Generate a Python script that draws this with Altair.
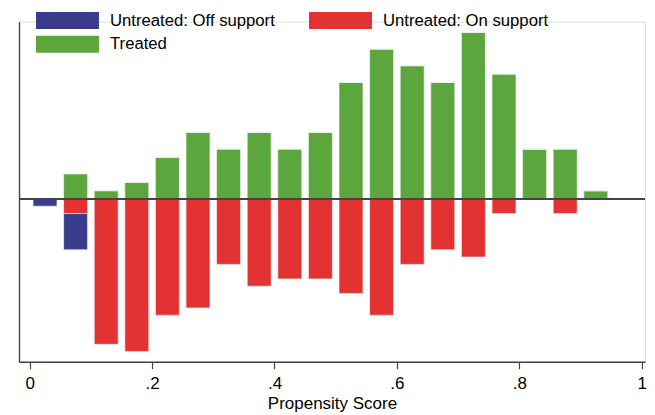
import altair as alt
import pandas as pd

# bin centres of the propensity-score histogram (bin width .05)
centers = [0.025, 0.075, 0.125, 0.175, 0.225, 0.275, 0.325, 0.375, 0.425, 0.475,
           0.525, 0.575, 0.625, 0.675, 0.725, 0.775, 0.825, 0.875, 0.925]
# counts per bin
treated = [0, 3, 1, 2, 5, 8, 6, 8, 6, 8, 14, 18, 16, 14, 20, 15, 6, 6, 1]
untreated_on = [0, 2, 20, 21, 16, 15, 9, 12, 11, 11, 13, 16, 9, 7, 8, 2, 0, 2, 0]
untreated_off = [1, 5, 0, 0, 0, 0, 0, 0, 0, 0, 0, 0, 0, 0, 0, 0, 0, 0, 0]

bin_width = 0.05
groups = ["Untreated: Off support", "Untreated: On support", "Treated"]
colors = ["#3a3d8b", "#e23232", "#5ca63e"]

n_t = sum(treated)
n_u = sum(untreated_on) + sum(untreated_off)

rows = []
for i, c in enumerate(centers):
    rows.append({"x": c, "group": "Treated", "ord": 0,
                 "dens": treated[i] / n_t / bin_width})
    rows.append({"x": c, "group": "Untreated: On support", "ord": 1,
                 "dens": -untreated_on[i] / n_u / bin_width})
    rows.append({"x": c, "group": "Untreated: Off support", "ord": 2,
                 "dens": -untreated_off[i] / n_u / bin_width})
df = pd.DataFrame(rows)

FONT = "Liberation Sans"

bars = alt.Chart(df).mark_bar(size=24, stroke="#f2f2f2", strokeWidth=0.7).encode(
    x=alt.X("x:Q",
            scale=alt.Scale(domain=[-0.01748, 1.00539], nice=False, zero=False, padding=0),
            axis=alt.Axis(values=[0, 0.2, 0.4, 0.6, 0.8, 1],
                          labelExpr="datum.value == 0 ? '0' : datum.value == 1 ? '1' : replace(format(datum.value, '.1f'), '0.', '.')",
                          title="Propensity Score", grid=False,
                          tickSize=7, tickColor="#444", tickWidth=1.2,
                          domainColor="#444", domainWidth=1.4,
                          labelFont=FONT, labelFontSize=17, labelColor="#000",
                          labelBaseline="alphabetic", labelPadding=20, labelFlush=False,
                          titleFont=FONT, titleFontSize=17, titleFontWeight="normal",
                          titleColor="#000", titleBaseline="alphabetic", titleY=47)),
    y=alt.Y("dens:Q", stack="zero",
            scale=alt.Scale(domain=[-2.488, 2.711], nice=False, zero=False, padding=0),
            axis=alt.Axis(labels=False, ticks=False, title=None, grid=False,
                          domainColor="#444", domainWidth=1.4)),
    color=alt.Color("group:N",
                    scale=alt.Scale(domain=groups, range=colors),
                    legend=alt.Legend(title=None, orient="none", legendX=17, legendY=-10,
                                      direction="horizontal",
                                      columns=2, columnPadding=34, rowPadding=6,
                                      symbolType="M-1,-1H6.41V1H-1Z", symbolSize=289,
                                      symbolStrokeWidth=0, symbolOpacity=1,
                                      labelFont=FONT, labelFontSize=16.7, labelColor="#000",
                                      labelOffset=57, padding=0, labelLimit=400)),
    order=alt.Order("ord:Q"),
)

zero = alt.Chart(df).mark_rule(color="#444", strokeWidth=1.1).encode(y=alt.datum(0))

chart = alt.layer(bars, zero).properties(
    width=626, height=340,
    autosize=alt.AutoSizeParams(type="none"),
    padding={"left": 11, "top": 13.7, "right": 2, "bottom": 53},
).configure_view(stroke=None).configure(background="white")

chart.save("out.html", embed_options={"renderer": "svg", "actions": False})
